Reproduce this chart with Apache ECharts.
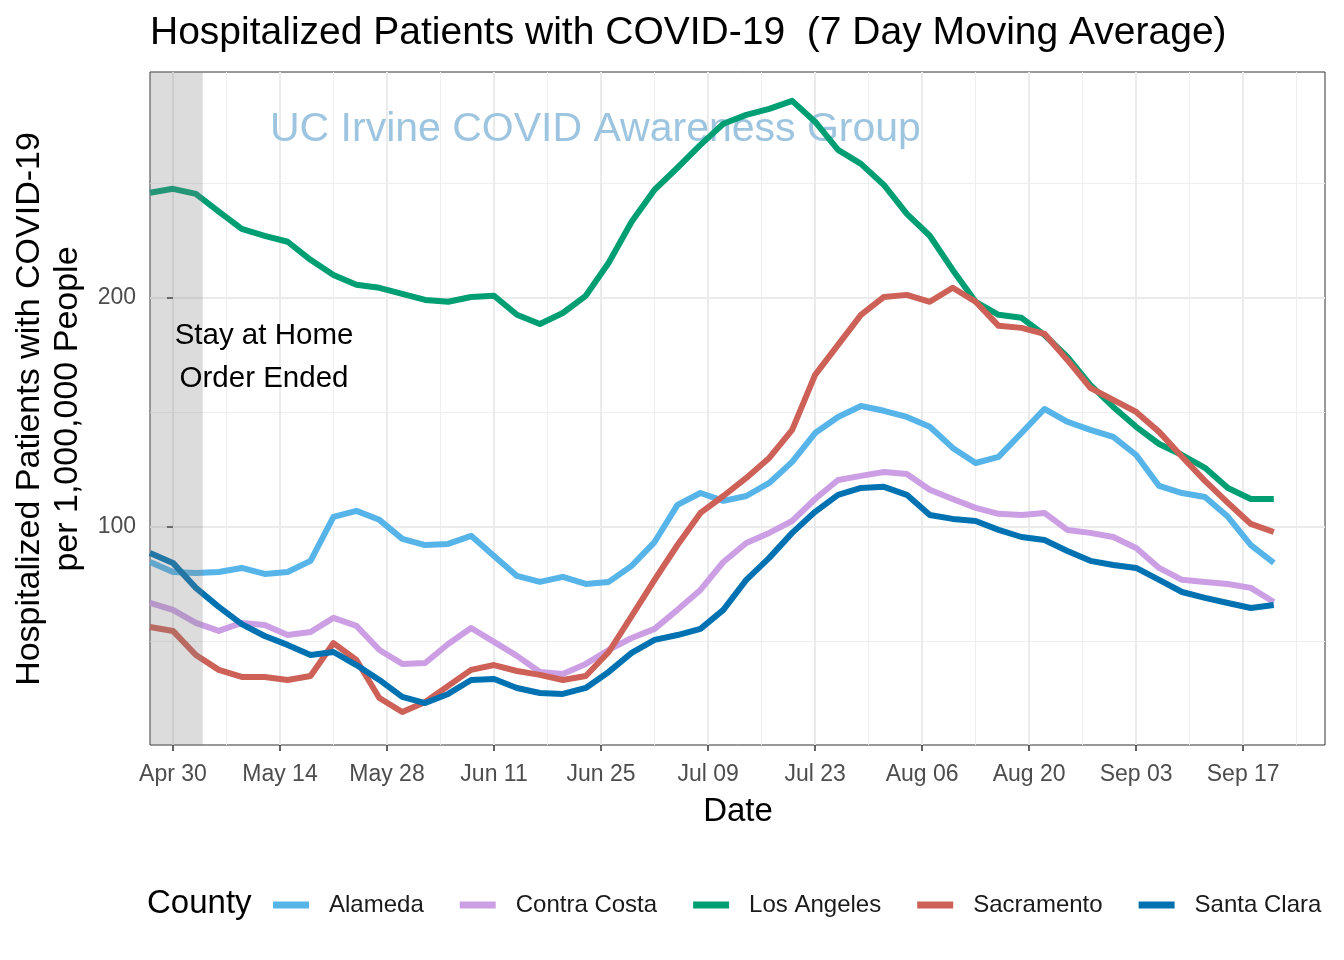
<!DOCTYPE html>
<html>
<head>
<meta charset="utf-8">
<script src="https://cdn.jsdelivr.net/npm/echarts@6/dist/echarts.min.js"></script>
<style>html,body{margin:0;padding:0;background:#fff}#chart{width:1344px;height:960px}</style>
</head>
<body>
<div id="chart"></div>
<script>
// Days since Apr 30, 2020
const dayOffsets = [-3,0,3,6,9,12,15,18,21,24,27,30,33,36,39,42,45,48,51,54,57,60,63,66,69,72,75,78,81,84,87,90,93,96,99,102,105,108,111,114,117,120,123,126,129,132,135,138,141,144];
const tickDays = [0,14,28,42,56,70,84,98,112,126,140];
const tickLabels = ['Apr 30','May 14','May 28','Jun 11','Jun 25','Jul 09','Jul 23','Aug 06','Aug 20','Sep 03','Sep 17'];
const minorTickDays = [7,21,35,49,63,77,91,105,119,133,147];
const yTicks = [100,200];
const yMinorTicks = [50,150,250];
const stayAtHomeWindow = [-3, 3.9];

const counties = ['Alameda','Contra Costa','Los Angeles','Sacramento','Santa Clara'];
const alameda = [84.7,80.3,79.9,80.3,82.1,79.5,80.3,85.2,104.4,107.0,103.1,94.8,92.1,92.6,96.1,87.3,78.6,76.0,78.2,75.1,76.0,83.0,93.4,109.6,114.8,111.4,113.5,119.2,128.4,141.0,148.0,152.8,150.7,148.0,143.7,134.5,127.9,130.6,141.0,151.5,145.9,142.4,139.3,131.4,117.9,114.8,113.1,104.4,92.1,84.3];
const contraCosta = [66.8,63.8,58.1,54.6,58.1,57.2,52.8,54.1,60.3,56.8,46.3,40.2,40.6,48.9,55.9,49.8,43.7,36.7,35.8,40.2,46.3,51.5,55.5,63.8,72.5,84.7,93.0,97.4,102.6,112.2,120.5,122.3,124.0,123.1,116.2,112.2,108.3,105.7,105.2,106.1,98.7,97.4,95.6,90.8,82.1,76.9,76.0,75.1,73.4,67.2];
const losAngeles = [245.9,247.6,245.4,237.6,230.1,227.1,224.5,216.6,210.0,205.7,204.4,201.7,199.1,198.3,200.4,200.9,192.6,188.6,193.4,200.9,215.3,233.2,247.2,256.8,266.8,276.0,279.9,282.5,286.0,276.9,264.6,258.5,249.3,236.7,227.1,212.2,198.3,192.6,191.3,183.8,174.2,162.0,152.4,143.7,136.2,131.4,125.8,117.0,112.2,112.2];
const sacramento = [56.3,54.6,44.1,37.6,34.5,34.5,33.2,34.9,49.3,41.9,25.3,19.2,23.6,30.6,37.6,39.7,37.1,35.4,33.2,34.9,45.4,61.1,76.9,92.1,106.1,113.5,121.4,130.1,142.4,166.4,179.5,192.6,200.4,201.3,198.3,204.4,198.3,187.8,186.9,184.3,172.9,160.7,155.5,150.2,141.5,130.6,120.1,110.5,101.3,97.8];
const santaClara = [88.6,84.3,73.4,65.1,57.6,52.4,48.5,44.1,45.4,39.7,33.2,25.8,23.1,27.1,33.2,33.6,29.7,27.5,27.1,29.7,36.7,45.0,50.7,52.8,55.5,63.8,76.9,86.5,97.4,106.6,114.0,117.0,117.5,114.0,105.2,103.5,102.6,98.7,95.6,94.3,89.5,85.2,83.4,82.1,76.9,71.6,69.0,66.8,64.6,65.9];
const seriesValues = [alameda, contraCosta, losAngeles, sacramento, santaClara];
const colors = ['#56B4E9','#CC9FE5','#009E73','#CD6158','#0072B2'];

const FONT = '"Liberation Sans", Arial, sans-serif';
const X_MIN = -3, X_MAX = 150.7, Y_MIN = 4.8, Y_MAX = 298.6;

const chart = echarts.init(document.getElementById('chart'), null, {renderer: 'canvas'});

const lineSeries = counties.map((name, i) => ({
  name: name,
  type: 'line',
  xAxisIndex: 0,
  yAxisIndex: 0,
  data: dayOffsets.map((d, k) => [d, seriesValues[i][k]]),
  showSymbol: false,
  symbol: 'none',
  smooth: false,
  lineStyle: {color: colors[i], width: 6, cap: 'butt', join: 'round'},
  itemStyle: {color: colors[i]},
  z: 3 + i,
  animation: false
}));

const shadeSeries = {
  type: 'custom',
  name: 'shade',
  xAxisIndex: 0,
  yAxisIndex: 0,
  z: 20,
  silent: true,
  animation: false,
  data: [stayAtHomeWindow],
  encode: {x: [0, 1]},
  renderItem: function (params, api) {
    const p1 = api.coord([api.value(0), Y_MAX]);
    const p2 = api.coord([api.value(1), Y_MIN]);
    return {
      type: 'rect',
      shape: {x: p1[0], y: p1[1], width: p2[0] - p1[0], height: p2[1] - p1[1]},
      style: {fill: 'rgba(128,128,128,0.28)'}
    };
  }
};

const option = {
  backgroundColor: '#ffffff',
  animation: false,
  textStyle: {fontFamily: FONT},
  grid: {left: 150, right: 19, top: 72, bottom: 215, show: true, borderColor: '#333333', borderWidth: 1, backgroundColor: 'transparent', containLabel: false},
  xAxis: [
    {
      type: 'value', min: X_MIN, max: X_MAX, position: 'bottom',
      axisLine: {show: false},
      axisTick: {show: true, customValues: tickDays, length: 6, lineStyle: {color: '#333333', width: 1.5}},
      axisLabel: {show: true, customValues: tickDays, margin: 18, fontSize: 23, color: '#4D4D4D', fontFamily: FONT,
        formatter: v => tickLabels[tickDays.indexOf(Math.round(v))] || ''},
      splitLine: {show: true, lineStyle: {color: '#EBEBEB', width: 2}}
    },
    {
      type: 'value', min: X_MIN, max: X_MAX, position: 'bottom',
      axisLine: {show: false},
      axisTick: {show: false, customValues: minorTickDays},
      axisLabel: {show: false},
      splitLine: {show: true, lineStyle: {color: '#EEEEEE', width: 1}}
    }
  ],
  yAxis: [
    {
      type: 'value', min: Y_MIN, max: Y_MAX, position: 'left',
      axisLine: {show: false},
      axisTick: {show: true, customValues: yTicks, length: 6, lineStyle: {color: '#333333', width: 1.5}},
      axisLabel: {show: true, customValues: yTicks, margin: 14, fontSize: 23, color: '#4D4D4D', fontFamily: FONT},
      splitLine: {show: true, lineStyle: {color: '#EBEBEB', width: 2}}
    },
    {
      type: 'value', min: Y_MIN, max: Y_MAX, position: 'left',
      axisLine: {show: false},
      axisTick: {show: false, customValues: yMinorTicks},
      axisLabel: {show: false},
      splitLine: {show: true, lineStyle: {color: '#EEEEEE', width: 1}}
    }
  ],
  legend: {
    data: counties,
    left: 268,
    top: 888,
    icon: 'rect',
    itemWidth: 36,
    itemHeight: 7,
    itemGap: 36,
    textStyle: {fontSize: 24, color: '#1a1a1a', fontFamily: FONT, padding: [0, 0, 0, 15]},
    selectedMode: false
  },
  graphic: [
    {type: 'text', left: 150, top: 14, z: 50, style: {text: 'Hospitalized Patients with COVID-19  (7 Day Moving Average)', font: '39px ' + FONT, fill: '#000'}},
    {type: 'text', x: 270, y: 130, z: 1, style: {text: 'UC Irvine COVID Awareness Group', font: '41px ' + FONT, fill: '#9EC5E0', textVerticalAlign: 'middle'}},
    {type: 'text', x: 264, y: 357, z: 50, style: {text: 'Stay at Home\nOrder Ended', font: '29.5px ' + FONT, fill: '#000', textAlign: 'center', textVerticalAlign: 'middle', lineHeight: 43}},
    {type: 'text', x: 738, y: 812, z: 50, style: {text: 'Date', font: '33px ' + FONT, fill: '#000', textAlign: 'center', textVerticalAlign: 'middle'}},
    {type: 'text', x: 49, y: 409, rotation: Math.PI / 2, z: 50, style: {text: 'Hospitalized Patients with COVID-19\nper 1,000,000 People', font: '34px ' + FONT, fill: '#000', textAlign: 'center', textVerticalAlign: 'middle', lineHeight: 38}},
    {type: 'text', x: 147, y: 904, z: 50, style: {text: 'County', font: '33px ' + FONT, fill: '#000', textVerticalAlign: 'middle'}}
  ],
  series: lineSeries.concat([shadeSeries])
};
chart.setOption(option);
</script>
</body>
</html>
